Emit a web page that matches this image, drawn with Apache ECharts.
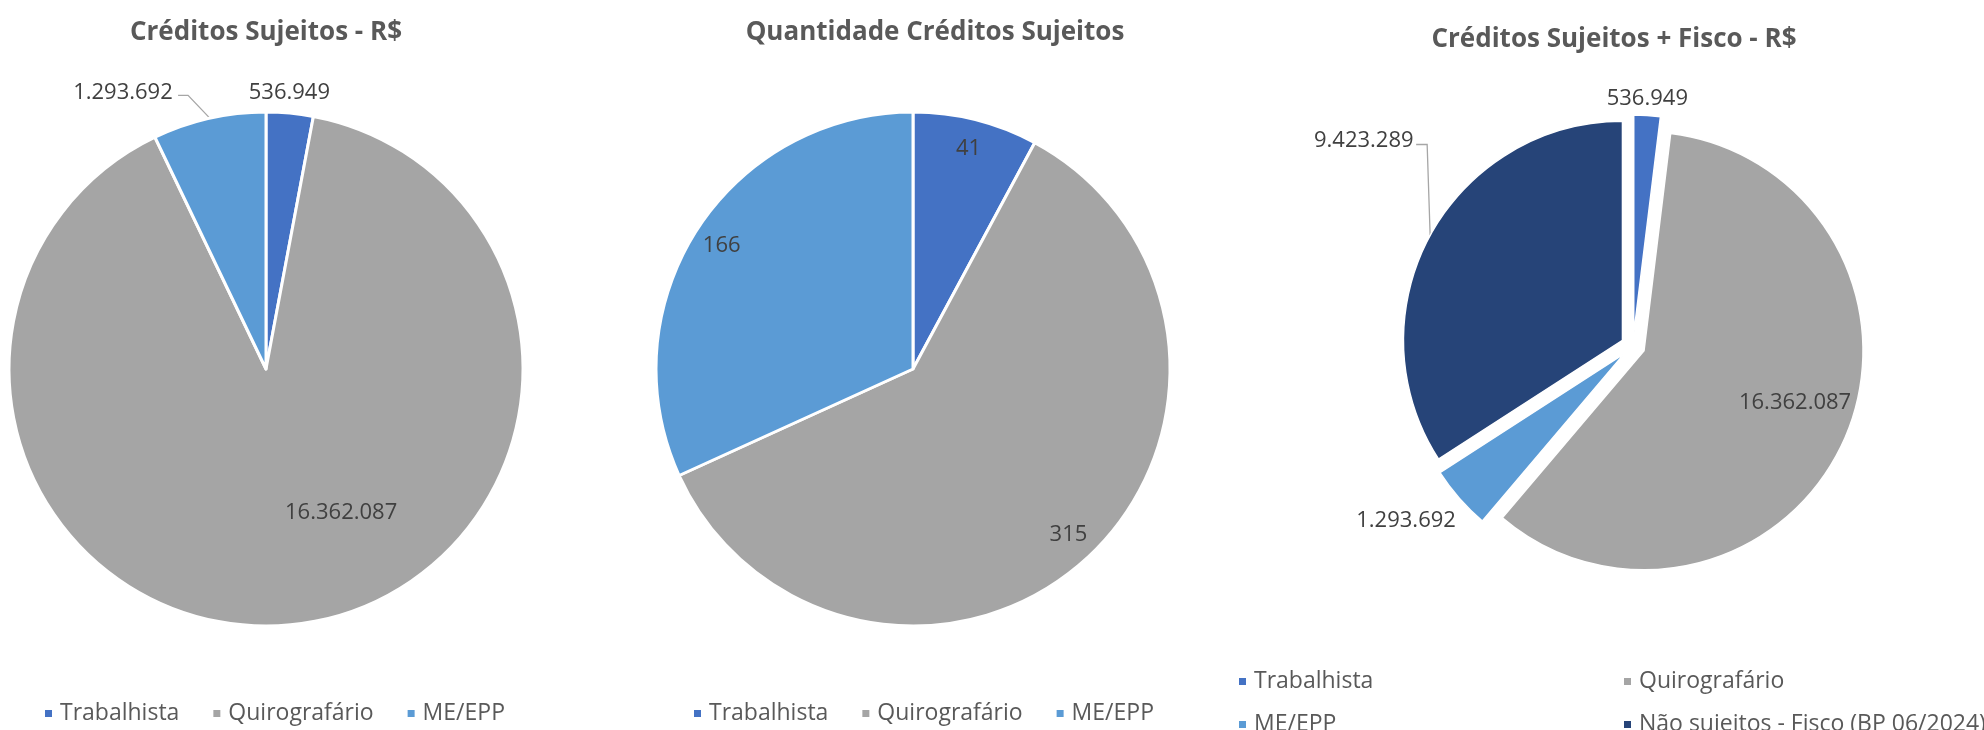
<!DOCTYPE html>
<html>
<head>
<meta charset="utf-8">
<title>Créditos Sujeitos</title>
<script src="https://cdn.jsdelivr.net/npm/echarts@6/dist/echarts.min.js"></script>
<style>
  html, body { margin: 0; padding: 0; background: #ffffff; }
  #grafico { width: 1984px; height: 730px; }
</style>
</head>
<body>
<div id="grafico"></div>
<script>
  // dados
  const categorias = ['Trabalhista', 'Quirografário', 'ME/EPP'];
  const categoriasFisco = ['Trabalhista', 'Quirografário', 'ME/EPP', 'Não sujeitos - Fisco (BP 06/2024)'];
  const valoresRS = [536949, 16362087, 1293692];
  const quantidades = [41, 315, 166];
  const valoresFisco = [536949, 16362087, 1293692, 9423289];
  const titulos = ['Créditos Sujeitos - R$', 'Quantidade Créditos Sujeitos', 'Créditos Sujeitos + Fisco - R$'];

  const cores = ['#4472C4', '#A5A5A5', '#5B9BD5', '#264478'];
  const fonte = '"Open Sans", "Noto Sans", sans-serif';

  function milhar(v) {
    return String(v).replace(/\B(?=(\d{3})+(?!\d))/g, '.');
  }

  // angulo medio da fatia, em graus, a partir do topo no sentido horario
  function anguloMedio(vals, i) {
    const total = vals.reduce((a, b) => a + b, 0);
    let acc = 0;
    for (let k = 0; k < i; k++) acc += vals[k];
    return (acc + vals[i] / 2) / total * 360;
  }
  function empurrar(vals, i, dist) {
    const a = anguloMedio(vals, i) * Math.PI / 180;
    return { dx: dist * Math.sin(a), dy: -dist * Math.cos(a) };
  }

  function itens(nomes, vals) {
    return vals.map((v, i) => ({ name: nomes[i], value: v }));
  }

  const rotulo = {
    fontFamily: fonte,
    fontSize: 22,
    color: '#404040',
    formatter: p => milhar(p.value)
  };
  const linhaGuia = { lineStyle: { color: '#A6A6A6', width: 1.3 } };

  const textoLegenda = { fontFamily: fonte, fontSize: 23, color: '#595959', padding: [0, 0, 0, 2] };
  function legenda(nomes, left, top, gap) {
    return {
      data: nomes,
      left: left,
      top: top,
      icon: 'rect',
      itemWidth: 9,
      itemHeight: 9,
      itemGap: gap,
      padding: 0,
      selectedMode: false,
      textStyle: textoLegenda
    };
  }

  let grafico = echarts.init(document.getElementById('grafico'));

  const ajustes1 = [{ dx: -47, dy: -10 }, { dx: 58, dy: 13 }, { dx: -10, dy: -2 }];
  const ajustes3 = [{ dx: -46, dy: -7 }, { dx: 48, dy: 7 }, { dx: 9, dy: 16 }, { dx: 16, dy: -85 }];

  grafico.setOption({
    animation: false,
    color: cores,
    title: titulos.map((t, i) => ({
      text: t,
      left: [266, 935, 1614][i],
      top: [20, 20, 27][i],
      textAlign: 'center',
      padding: 0,
      textStyle: { fontFamily: fonte, fontSize: 26, fontWeight: 'bold', color: '#595959' }
    })),
    legend: [
      legenda(categorias, 43, 702, 32),
      legenda(categorias, 692, 702, 32),
      legenda([categoriasFisco[0]], 1237, 670, 0),
      legenda([categoriasFisco[1]], 1622, 670, 0),
      legenda([categoriasFisco[2]], 1237, 713, 0),
      legenda([categoriasFisco[3]], 1622, 713, 0)
    ],
    series: [
      {
        name: titulos[0],
        type: 'pie',
        center: [266, 369],
        radius: 257,
        startAngle: 90,
        clockwise: true,
        avoidLabelOverlap: false,
        itemStyle: { borderColor: '#ffffff', borderWidth: 3 },
        label: Object.assign({}, rotulo, { position: 'outside' }),
        labelLine: Object.assign({ show: false, length: 10, length2: 0 }, linhaGuia),
        labelLayout: p => {
          const aj = Object.assign({}, ajustes1[p.dataIndex]);
          if (p.dataIndex === 2 && p.labelLinePoints) {
            const x0 = p.labelLinePoints[0][0], y0 = p.labelLinePoints[0][1];
            aj.labelLinePoints = [[x0, y0 - 1], [x0 - 21, y0 - 23], [x0 - 31, y0 - 23]];
          }
          return aj;
        },
        data: itens(categorias, valoresRS).map((d, i) => {
          if (i === 1) d.label = { position: 'inside' };
          if (i === 2) d.labelLine = { show: true, length: 24, length2: 16 };
          return d;
        })
      },
      {
        name: titulos[1],
        type: 'pie',
        center: [913, 369],
        radius: 257,
        startAngle: 90,
        clockwise: true,
        avoidLabelOverlap: false,
        itemStyle: { borderColor: '#ffffff', borderWidth: 3 },
        label: Object.assign({}, rotulo, { position: 'inside' }),
        labelLine: { show: false },
        labelLayout: p => empurrar(quantidades, p.dataIndex, 96),
        data: itens(categorias, quantidades)
      },
      {
        name: titulos[2],
        type: 'pie',
        center: [1633, 346],
        radius: 219,
        startAngle: 90,
        clockwise: true,
        avoidLabelOverlap: false,
        selectedMode: 'multiple',
        selectedOffset: 12,
        itemStyle: { borderColor: '#ffffff', borderWidth: 1.5 },
        select: { itemStyle: { borderColor: '#ffffff', borderWidth: 1.5 } },
        label: Object.assign({}, rotulo, { position: 'outside' }),
        labelLine: Object.assign({ show: false, length: 10, length2: 0 }, linhaGuia),
        labelLayout: p => {
          const aj = Object.assign({}, ajustes3[p.dataIndex]);
          if (p.dataIndex === 3 && p.labelLinePoints) {
            const x0 = p.labelLinePoints[0][0], y0 = p.labelLinePoints[0][1];
            const yTopo = y0 - 91;
            aj.labelLinePoints = [[x0, y0], [x0 - 3, yTopo], [x0 - 14, yTopo]];
          }
          return aj;
        },
        data: itens(categoriasFisco, valoresFisco).map((d, i) => {
          d.selected = true;
          if (i === 1) d.label = { position: 'inside' };
          if (i === 3) d.labelLine = { show: true, length: 20, length2: 10 };
          return d;
        })
      }
    ]
  });
</script>
</body>
</html>
